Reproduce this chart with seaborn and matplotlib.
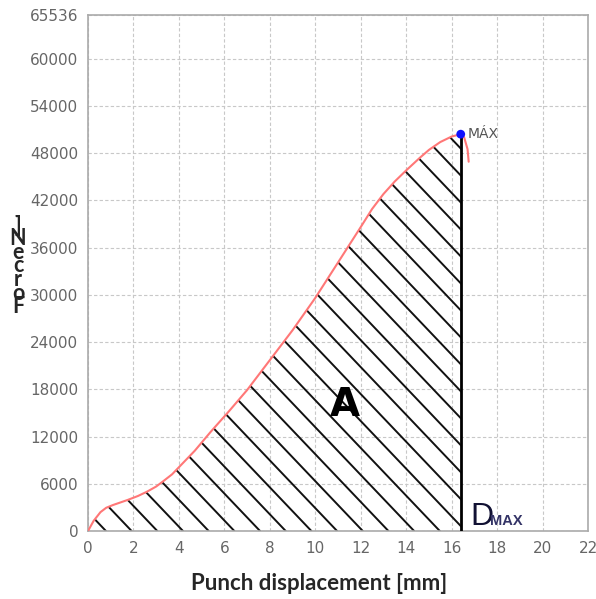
import matplotlib
matplotlib.use('Agg')
import matplotlib.pyplot as plt
import numpy as np
import pandas as pd
import seaborn as sns

# Force-displacement curve
disp = [0, 0.25, 0.55, 0.8, 1.1, 1.45, 1.75, 2.2, 2.6, 3.0, 3.3, 3.7, 4.0, 4.7, 5.4,
        6.2, 7.0, 8.0, 9.0, 10.0, 11.0, 12.0, 12.5, 13.0, 13.5, 14.0, 14.6, 15.0,
        15.5, 16.0, 16.4]
force = [0, 1300, 2400, 2950, 3300, 3650, 3950, 4450, 5000, 5650, 6300, 7200, 8100,
         10200, 12600, 15200, 17900, 21700, 25500, 29600, 34100, 38600, 40900, 42800,
         44400, 45800, 47400, 48400, 49400, 50100, 50400]
# little drop after the maximum
tail_disp = [16.4, 16.55, 16.7, 16.75]
tail_force = [50400, 50000, 48500, 46900]

d_max = 16.4
f_max = 50400

x_ticks = list(range(0, 23, 2))
y_ticks = [0, 6000, 12000, 18000, 24000, 30000, 36000, 42000, 48000, 54000, 60000, 65536]

df = pd.DataFrame({'disp': disp, 'force': force})
df_tail = pd.DataFrame({'disp': tail_disp, 'force': tail_force})

sns.set_style('white')
fig = plt.figure(figsize=(5.96, 5.99), dpi=100)
ax = fig.add_axes([88 / 596, 1 - 531 / 599, 500 / 596, 516 / 599])

ax.set_xlim(0, 22)
ax.set_ylim(0, 65536)
ax.set_xticks(x_ticks)
ax.set_yticks(y_ticks)
ax.grid(True, color='#c8c8c8', linestyle=(0, (3, 2)), linewidth=0.8)
ax.tick_params(length=0, labelsize=11, labelcolor='#666666', pad=7)
for s in ax.spines.values():
    s.set_color('#aaaaaa')
    s.set_linewidth(1.2)

# hatched area A under the curve
poly = ax.fill_between(df['disp'], 0, df['force'], facecolor='none', edgecolor='none')
clip = poly.get_paths()[0]
w_px = ax.get_position().width * fig.get_figwidth() * fig.dpi
h_px = ax.get_position().height * fig.get_figheight() * fig.dpi
slope = 1.05 * (w_px / 22) / (h_px / 65536)
for x0 in np.arange(0.79, 40, 1.13):
    xs = np.array([x0 - 25, x0])
    ln, = ax.plot(xs, (x0 - xs) * slope, color='#111111', linewidth=1.4, zorder=2)
    ln.set_clip_path(clip, ax.transData)

sns.lineplot(data=df, x='disp', y='force', color='#ff7777', linewidth=1.5, ax=ax, zorder=3)
sns.lineplot(data=df_tail, x='disp', y='force', color='#ff7777', linewidth=1.5, ax=ax,
             zorder=3, sort=False)
ax.plot([d_max, d_max], [0, f_max], color='black', linewidth=2, zorder=4)
sns.scatterplot(x=[d_max], y=[f_max], color='#1010ff', s=40, edgecolor='none', ax=ax, zorder=5)

ax.text(d_max + 0.3, f_max, 'MÁX', color='#555555', fontsize=10, va='center', ha='left')
ax.text(11.3, 16000, 'A', fontsize=28, fontweight='bold', color='black', ha='center', va='center')
ax.text(d_max + 0.42, 750, 'D', fontsize=23, color='#111133', ha='left', va='baseline',
        family='Liberation Sans')
ax.text(d_max + 1.3, 750, 'MAX', fontsize=10.5, color='#333366', ha='left', va='baseline',
        family='Liberation Sans', fontweight='bold')

ax.set_xlabel('')
ax.set_ylabel('')
fig.text(319 / 596, 1 - 583 / 599, 'Punch displacement [mm]', fontsize=16,
         fontweight='bold', family='Lato', ha='center', va='center')
# the y label is rendered as a stacked, overlapping column of letters
fig.text(18 / 596, 1 - 266 / 599, ']\nN\ne\nc\nr\no\nF', fontsize=15.5, fontweight='bold',
         family='Lato', ha='center', va='center', linespacing=0.56)

fig.savefig('out.png', dpi=100)
